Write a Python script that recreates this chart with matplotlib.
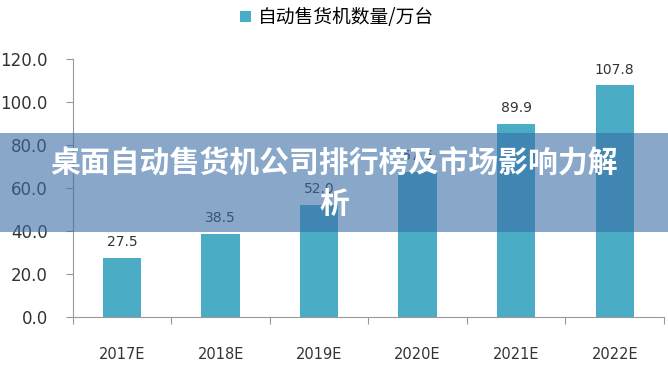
import matplotlib
matplotlib.use("Agg")
import matplotlib.pyplot as plt
from matplotlib.patches import Rectangle

plt.rcParams['font.family'] = ['Noto Sans CJK SC', 'DejaVu Sans']

categories = ['2017E', '2018E', '2019E', '2020E', '2021E', '2022E']
values = [27.5, 38.5, 52.0, 67.6, 89.9, 107.8]
value_labels = ['27.5', '38.5', '52.0', '67.6', '89.9', '107.8']
yticks = [0, 20, 40, 60, 80, 100, 120]
ytick_labels = ['0.0', '20.0', '40.0', '60.0', '80.0', '100.0', '120.0']
legend_label = '自动售货机数量/万台'
title = '桌面自动售货机公司排行榜及市场影响力解\n析'

fig = plt.figure(figsize=(6.68, 3.68), dpi=100)
ax = fig.add_axes([0.109, 0.139, 0.885, 0.701])

bar_color = '#4bacc6'
x = list(range(len(categories)))
bars = ax.bar(x, values, width=0.39, color=bar_color, label=legend_label, zorder=2)
for xi, v, lab in zip(x, values, value_labels):
    ax.text(xi, v + 4, lab, ha='center', va='bottom', fontsize=10, color='#333333',
            family=['DejaVu Sans'])

ax.set_xlim(-0.5, len(categories) - 0.5)
ax.set_ylim(0, 120)
ax.set_yticks(yticks)
ax.set_yticklabels(ytick_labels, fontsize=12, color='#333333', family=['DejaVu Sans'])
ax.set_xticks([i - 0.5 for i in range(len(categories) + 1)], minor=False)
ax.set_xticklabels([''] * (len(categories) + 1))
ax.set_xticks(x, minor=True)
ax.set_xticklabels(categories, minor=True, fontsize=10.5, color='#333333', family=['DejaVu Sans'])
ax.tick_params(axis='x', which='minor', length=0, pad=22)
ax.tick_params(axis='x', which='major', length=5, color='#999999', direction='out')
ax.tick_params(axis='y', length=5, color='#999999', direction='out', pad=13)

for s in ['top', 'right']:
    ax.spines[s].set_visible(False)
ax.spines['left'].set_color('#999999')
ax.spines['bottom'].set_color('#999999')

leg = fig.legend(handles=[bars], labels=[legend_label], loc='center',
                 bbox_to_anchor=(0.505, 0.952), frameon=False, fontsize=13.5,
                 handlelength=0.55, handleheight=0.55, handletextpad=0.4)

# banner overlay
fig.patches.append(Rectangle((0, 1 - 232 / 368), 1, 99 / 368, transform=fig.transFigure,
                             facecolor='#3a6ea5', alpha=0.6, edgecolor='none', zorder=5))
fig.text(0.5, 1 - 184 / 368, title, ha='center', va='center', fontsize=21.5,
         fontweight='bold', color='white', zorder=6, linespacing=1.45)

fig.savefig('out.png', dpi=100)
